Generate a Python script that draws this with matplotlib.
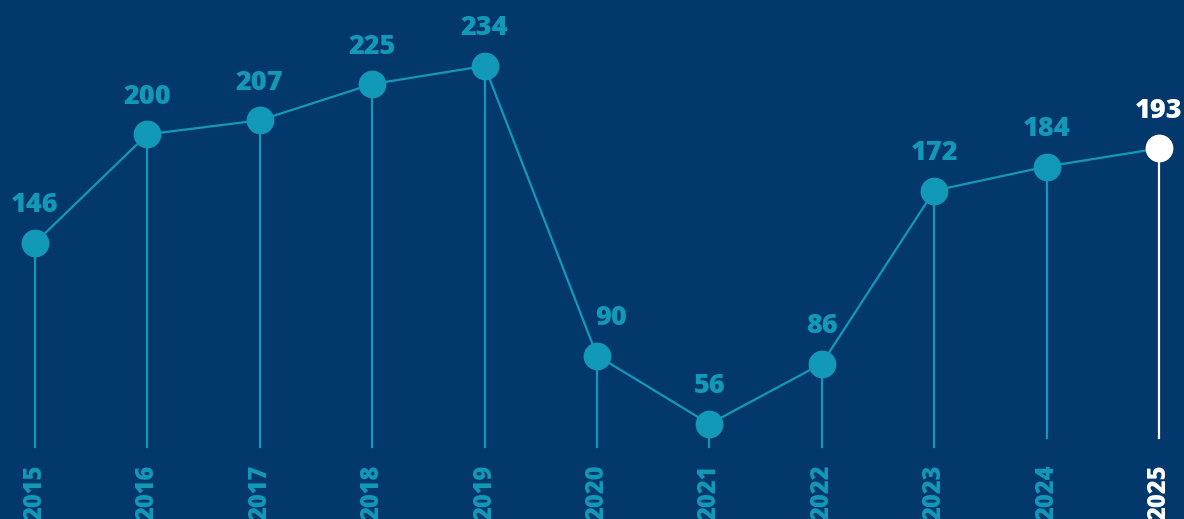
import matplotlib
matplotlib.use("Agg")
import matplotlib.pyplot as plt

years = ["2015", "2016", "2017", "2018", "2019", "2020", "2021", "2022", "2023", "2024", "2025"]
values = [146, 200, 207, 225, 234, 90, 56, 86, 172, 184, 193]

BG = "#03386c"
TEAL = "#1399b8"
WHITE = "#ffffff"

plt.rcParams["font.family"] = ["Open Sans", "DejaVu Sans"]

fig = plt.figure(figsize=(11.84, 5.19), dpi=100, facecolor=BG)
ax = fig.add_axes([0, 0, 1, 1], facecolor=BG)
ax.set_xlim(-0.311, 10.222)
ax.set_ylim(8.75, 266.8)
ax.axis("off")

x = list(range(len(years)))
last = len(years) - 1

# stems
for i, v in enumerate(values):
    col = WHITE if i == last else TEAL
    bottom = 49 if i >= last - 1 else 44.6
    ax.plot([i, i], [bottom, v], color=col, lw=1.6, zorder=1)

ax.plot(x, values, color=TEAL, lw=1.6, zorder=2)
ax.plot(x[:last], values[:last], "o", color=TEAL, ms=20, mec="none", zorder=3)
ax.plot([x[last]], [values[last]], "o", color=WHITE, ms=20, mec="none", zorder=3)

for i, (yr, v) in enumerate(zip(years, values)):
    col = WHITE if i == last else TEAL
    dx = 10 if yr == "2020" else 0  # nudge away from the falling line
    ax.annotate(str(v), (i, v), xytext=(dx, 22), textcoords="offset points",
                ha="center", va="baseline", fontsize=19.5, fontweight="extra bold", color=col)
    ax.text(i, 35.6, yr, rotation=90, ha="center", va="top",
            fontsize=17, fontweight="extra bold", color=col)

fig.savefig("out.png", dpi=100, facecolor=BG)
